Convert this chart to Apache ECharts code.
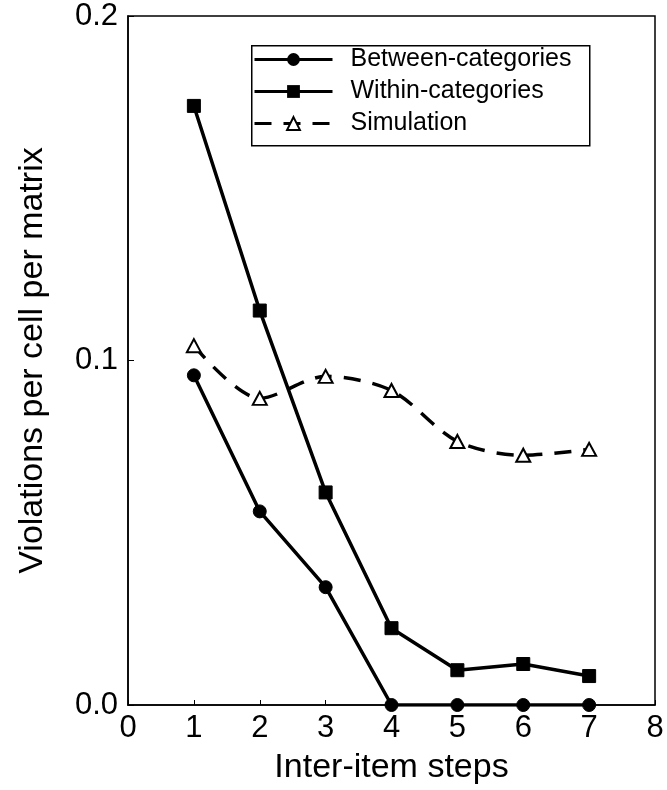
<!DOCTYPE html>
<html>
<head>
<meta charset="utf-8">
<script src="https://cdn.jsdelivr.net/npm/echarts@6/dist/echarts.min.js"></script>
<style>
html,body{margin:0;padding:0;background:#fff;}
#chart{width:667px;height:790px;}
</style>
</head>
<body>
<div id="chart"></div>
<script>
var steps = [1, 2, 3, 4, 5, 6, 7];
var betweenCategories = [0.0957, 0.0562, 0.0342, 0.0, 0.0, 0.0, 0.0];
var withinCategories = [0.1739, 0.1145, 0.0617, 0.0223, 0.0101, 0.0119, 0.0084];
var simulation = [0.1043, 0.0890, 0.0954, 0.0913, 0.0765, 0.0725, 0.0742];
var seriesNames = ['Between-categories', 'Within-categories', 'Simulation'];
var xTicks = [0, 1, 2, 3, 4, 5, 6, 7, 8];
var yTicks = [0.0, 0.1, 0.2];

function pairs(xs, ys) { return xs.map(function (x, i) { return [x, ys[i]]; }); }

var FONT = 'Liberation Sans, Arial, Helvetica, sans-serif';
var chart = echarts.init(document.getElementById('chart'), null, {renderer: 'canvas'});
chart.setOption({
  animation: false,
  backgroundColor: '#fff',
  grid: {left: 128, right: 12, top: 16, bottom: 83, show: true, borderColor: '#000', borderWidth: 1.5, backgroundColor: 'transparent'},
  graphic: [{
    type: 'rect', left: 251, top: 45, z: 50,
    shape: {width: 338, height: 100},
    style: {fill: '#fff', stroke: '#000', lineWidth: 1.5}
  }],
  legend: {
    data: seriesNames,
    orient: 'vertical',
    left: 251, top: 45, z: 60,
    padding: [2, 6, 8, 2],
    itemWidth: 78, itemHeight: 16, itemGap: 7,
    borderWidth: 0,
    lineStyle: {width: 3},
    textStyle: {fontFamily: FONT, fontSize: 25, color: '#000', padding: [0, 0, 0, 13]}
  },
  xAxis: {
    type: 'value', min: xTicks[0], max: xTicks[xTicks.length - 1], interval: 1,
    name: 'Inter-item steps', nameLocation: 'middle', nameGap: 46,
    nameTextStyle: {fontFamily: FONT, fontSize: 34, color: '#000'},
    axisLine: {lineStyle: {color: '#000', width: 1.5}},
    axisTick: {inside: true, length: 5, lineStyle: {color: '#000', width: 1}},
    axisLabel: {fontFamily: FONT, fontSize: 31, color: '#000', margin: 8},
    splitLine: {show: false}
  },
  yAxis: {
    type: 'value', min: yTicks[0], max: yTicks[yTicks.length - 1], interval: 0.1,
    name: 'Violations per cell per matrix', nameLocation: 'middle', nameGap: 78,
    nameTextStyle: {fontFamily: FONT, fontSize: 34, color: '#000'},
    axisLine: {lineStyle: {color: '#000', width: 1.5}},
    axisTick: {inside: true, length: 6, lineStyle: {color: '#000', width: 1}},
    axisLabel: {fontFamily: FONT, fontSize: 31, color: '#000', margin: 10, formatter: function (v) { return v.toFixed(1); }},
    splitLine: {show: false}
  },
  series: [
    {
      name: seriesNames[0], type: 'line', data: pairs(steps, betweenCategories),
      symbol: 'circle', symbolSize: 13,
      lineStyle: {color: '#000', width: 3.5},
      itemStyle: {color: '#000', borderColor: '#000'}
    },
    {
      name: seriesNames[1], type: 'line', data: pairs(steps, withinCategories),
      symbol: 'rect', symbolSize: 13,
      lineStyle: {color: '#000', width: 3.5},
      itemStyle: {color: '#000', borderColor: '#000'}
    },
    {
      name: seriesNames[2], type: 'line', data: pairs(steps, simulation),
      smooth: 0.3,
      symbol: 'triangle', symbolSize: [14, 13],
      lineStyle: {color: '#000', width: 3.5, type: [17, 12]},
      itemStyle: {color: '#fff', borderColor: '#000', borderWidth: 2}
    }
  ]
});
</script>
</body>
</html>
